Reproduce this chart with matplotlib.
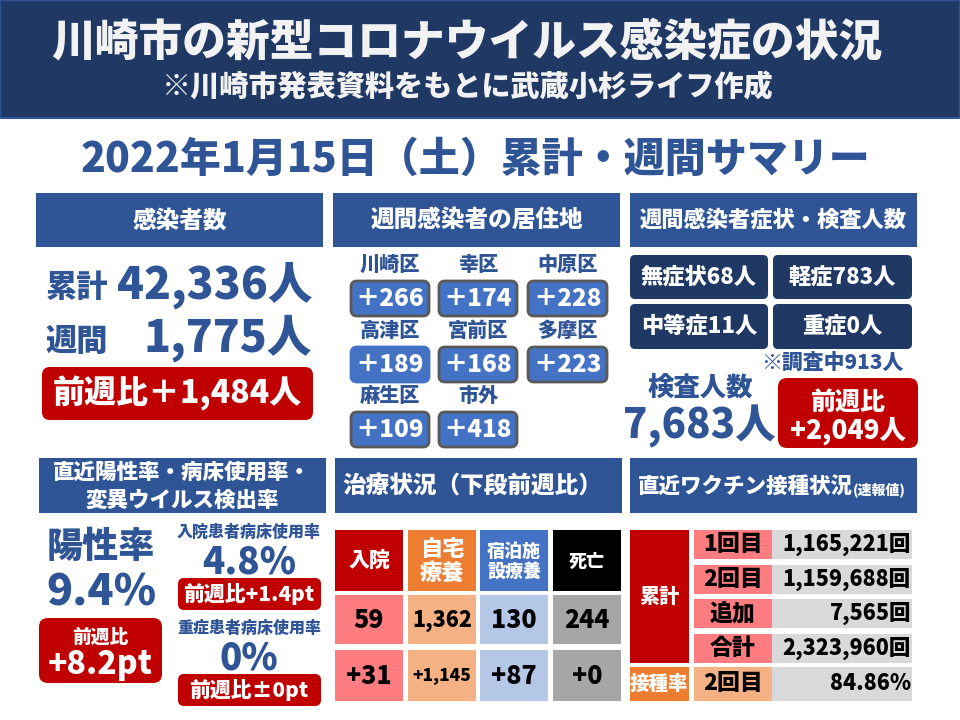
import matplotlib
matplotlib.use("Agg")
import matplotlib.pyplot as plt
from matplotlib import patches as mp

plt.rcParams['font.family'] = ['Noto Sans CJK JP', 'DejaVu Sans']
plt.rcParams['font.weight'] = 'heavy'

# ---- data ----
title = "川崎市の新型コロナウイルス感染症の状況"
subtitle = "※川崎市発表資料をもとに武蔵小杉ライフ作成"
date_line = "2022年1月15日（土）累計・週間サマリー"

total_cases = "42,336"
weekly_cases = "1,775"
weekly_diff = "+1,484"

wards = ["川崎区", "幸区", "中原区", "高津区", "宮前区", "多摩区", "麻生区", "市外"]
ward_counts = [266, 174, 228, 189, 168, 223, 109, 418]

symptoms = ["無症状", "軽症", "中等症", "重症"]
symptom_counts = [68, 783, 11, 0]
under_survey = 913
tests = "7,683"
tests_diff = "+2,049"

positivity = "9.4%"
positivity_diff = "+8.2pt"
bed_labels = ["入院患者病床使用率", "重症患者病床使用率"]
bed_rates = ["4.8%", "0%"]
bed_diffs = ["前週比+1.4pt", "前週比±0pt"]

treat_heads = ["入院", "自宅\n療養", "宿泊施\n設療養", "死亡"]
treat_now = ["59", "1,362", "130", "244"]
treat_diff = ["+31", "+1,145", "+87", "+0"]

vacc_labels = ["1回目", "2回目", "追加", "合計", "2回目"]
vacc_values = ["1,165,221回", "1,159,688回", "7,565回", "2,323,960回", "84.86%"]

NAVY = "#203864"
BLUE = "#2F5597"
RED = "#C00000"
W = 'heavy'

fig = plt.figure(figsize=(9.6, 7.2), dpi=100)
ax = fig.add_axes([0, 0, 1, 1])
ax.set_xlim(0, 960)
ax.set_ylim(720, 0)
ax.axis('off')


def box(x0, y0, x1, y1, color, r=0, edge=None, lw=0):
    if r:
        p = mp.FancyBboxPatch((x0 + r, y0 + r), x1 - x0 - 2 * r, y1 - y0 - 2 * r,
                              boxstyle="round,pad=%g" % r, fc=color,
                              ec=edge if edge else color, lw=lw)
    else:
        p = mp.Rectangle((x0, y0), x1 - x0, y1 - y0, fc=color,
                         ec=edge if edge else 'none', lw=lw)
    ax.add_patch(p)


def txt(x, y, s, size, color='white', ha='center', **kw):
    ax.text(x, y, s, fontsize=size, color=color, ha=ha, va='center',
            fontweight=W, **kw)


# header band
box(0, 0, 960, 118, NAVY, edge="#2F5597", lw=1.5)
txt(467, 42, title, 31.5, color="#F2F2F2")
txt(468, 88, subtitle, 21, color="#F2F2F2")
txt(476, 160, date_line, 29.5, color=BLUE)

# section headers
heads1 = [(36, 323, "感染者数", 17), (333, 620, "週間感染者の居住地", 17),
          (630, 917, "週間感染者症状・検査人数", 16)]
for x0, x1, s, fs in heads1:
    box(x0, 193, x1, 247, BLUE)
    txt((x0 + x1) / 2, 220, s, fs)

heads2 = [(39, 326), (335, 622), (630, 917)]
for x0, x1 in heads2:
    box(x0, 458, x1, 513, BLUE)
txt(182, 472, "直近陽性率・病床使用率・", 15.5)
txt(182, 500, "変異ウイルス検出率", 15.5)
txt(472, 486, "治療状況（下段前週比）", 17)
txt(853, 487, "直近ワクチン接種状況", 15.5, ha='right')
txt(853, 490, "(速報値)", 10, ha='left')

# panel 1: cases
txt(46, 288, "累計", 22.5, color=BLUE, ha='left')
txt(312, 285, total_cases + "人", 32, color=BLUE, ha='right')
txt(46, 341, "週間", 22.5, color=BLUE, ha='left')
txt(312, 338, weekly_cases + "人", 32, color=BLUE, ha='right')
box(42, 367, 313, 420, RED, r=8)
txt(177, 393, "前週比" + weekly_diff.replace("+", "＋") + "人", 23)

# panel 2: wards
col_x = [(351, 429), (439, 517), (528, 607)]
row_y = [(281, 316), (347, 382), (412, 447)]
for i, (w, c) in enumerate(zip(wards, ward_counts)):
    r, k = divmod(i, 3)
    x0, x1 = col_x[k]
    y0, y1 = row_y[r]
    txt((x0 + x1) / 2, y0 - 16, w, 14.5, color=BLUE)
    edge = "#4472C4" if w == "高津区" else "#595959"
    box(x0, y0, x1, y1, "#4472C4", r=6, edge=edge, lw=2)
    txt((x0 + x1) / 2, (y0 + y1) / 2, "＋%d" % c, 17.5)

# panel 3: symptoms / tests
sym_boxes = [(630, 255, 768, 299), (773, 255, 912, 299), (630, 304, 768, 349), (773, 304, 912, 349)]
for (x0, y0, x1, y1), s, n in zip(sym_boxes, symptoms, symptom_counts):
    box(x0, y0, x1, y1, NAVY, r=5)
    txt((x0 + x1) / 2, (y0 + y1) / 2, "%s%d人" % (s, n), 16)
txt(903, 363, "※調査中%d人" % under_survey, 15, color=BLUE, ha='right')
txt(700, 387, "検査人数", 19, color=BLUE)
txt(699, 426, tests + "人", 29, color=BLUE)
box(778, 378, 918, 448, RED, r=9)
txt(848, 402, "前週比", 18)
txt(848, 431, tests_diff + "人", 19)

# panel 4: rates
txt(101, 547, "陽性率", 26, color=BLUE)
txt(101, 593, positivity, 31, color=BLUE)
box(39, 618, 162, 683, RED, r=9)
txt(100, 637, "前週比", 13.5)
txt(100, 664, positivity_diff, 23)
for j, (lab, rate, d) in enumerate(zip(bed_labels, bed_rates, bed_diffs)):
    oy = j * 96
    txt(249, 532 + oy, lab, 11.5, color=BLUE)
    txt(249, 563 + oy, rate, 26.5, color=BLUE)
    box(178, 578 + oy, 321, 610 + oy, RED, r=6)
    txt(249, 594 + oy, d, 15)

# panel 5: treatment table
tcols = [(335, 403), (408, 476), (480, 548), (553, 621)]
head_c = [RED, "#ED7D31", "#4472C4", "#000000"]
body_c = ["#FF7C80", "#F4B183", "#B4C7E7", "#A6A6A6"]
head_fs = [15, 16, 13, 13]
now_fs = [18, 15.5, 18, 18]
diff_fs = [18, 12.5, 18, 18]
for k, (x0, x1) in enumerate(tcols):
    cx = (x0 + x1) / 2
    box(x0, 530, x1, 591, head_c[k])
    txt(cx, 561, treat_heads[k], head_fs[k], linespacing=1.05)
    box(x0, 595, x1, 644, body_c[k])
    txt(cx, 620, treat_now[k], now_fs[k], color='black')
    box(x0, 650, x1, 701, body_c[k])
    txt(cx, 676, treat_diff[k], diff_fs[k], color='black')

# panel 6: vaccination table
box(630, 530, 689, 663, RED)
txt(659, 597, "累計", 14.5)
box(630, 667, 689, 701, "#ED7D31")
txt(659, 684, "接種率", 14)
vrows = [(530, 559), (565, 594), (599, 628), (634, 663), (667, 701)]
for i, ((y0, y1), lab, val) in enumerate(zip(vrows, vacc_labels, vacc_values)):
    box(694, y0, 772, y1, "#F4B183" if i == 4 else "#FF7C80")
    box(772, y0, 912, y1, "#D9D9D9")
    txt(733, (y0 + y1) / 2, lab, 16.5, color='black')
    txt(911, (y0 + y1) / 2, val, 15.5, color='black', ha='right')

fig.savefig("out.png", dpi=100)
